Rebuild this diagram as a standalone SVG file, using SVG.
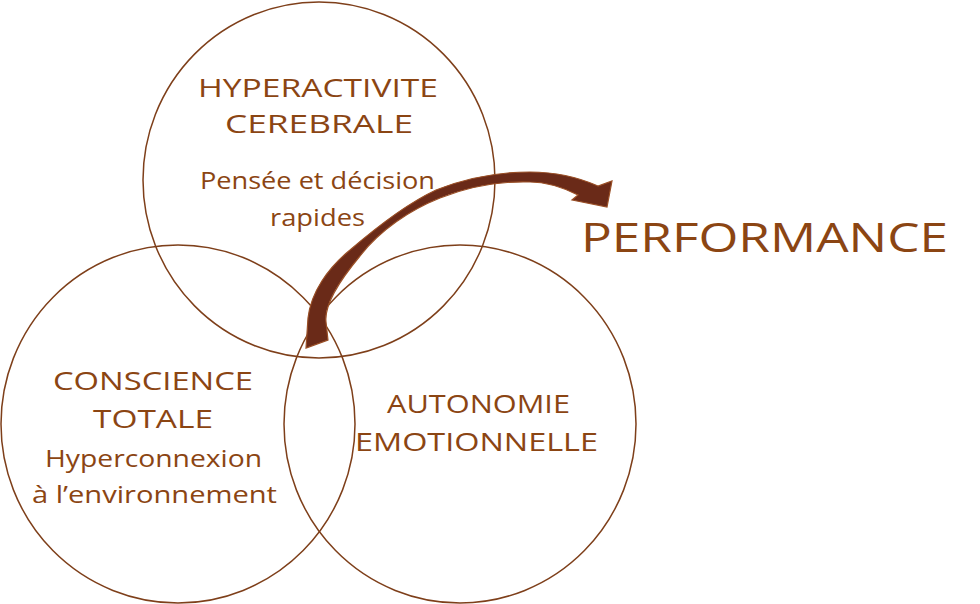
<svg xmlns="http://www.w3.org/2000/svg" width="980" height="604" viewBox="0 0 980 604">
  <style>
    .ring { fill: none; stroke: #7e3f1a; stroke-width: 1.5; }
    .t { font-family: "Open Sans", "Liberation Sans", sans-serif; fill: #8b4513; }
    .cap { font-size: 26px; }
    .low { font-size: 24px; }
    .big { font-size: 40px; }
    .arrow { fill: #6a2a18; stroke: #9a4f26; stroke-width: 1.2; stroke-linejoin: miter; }
  </style>
  <rect width="980" height="604" fill="#ffffff"/>
  <g id="node-hyperactivite">
    <ellipse class="ring" cx="319" cy="180" rx="176" ry="178"/>
    <text class="t cap" x="198" y="97" textLength="240" lengthAdjust="spacingAndGlyphs">HYPERACTIVITE</text>
    <text class="t cap" x="225" y="133" textLength="188" lengthAdjust="spacingAndGlyphs">CEREBRALE</text>
    <text class="t low" x="200" y="189" textLength="235" lengthAdjust="spacingAndGlyphs">Pensée et décision</text>
    <text class="t low" x="270" y="226" textLength="95" lengthAdjust="spacingAndGlyphs">rapides</text>
  </g>
  <g id="node-conscience">
    <ellipse class="ring" cx="178" cy="424" rx="177" ry="179"/>
    <text class="t cap" x="53" y="390" textLength="200" lengthAdjust="spacingAndGlyphs">CONSCIENCE</text>
    <text class="t cap" x="93" y="428" textLength="120" lengthAdjust="spacingAndGlyphs">TOTALE</text>
    <text class="t low" x="45" y="467" textLength="217" lengthAdjust="spacingAndGlyphs">Hyperconnexion</text>
    <text class="t low" x="32" y="503" textLength="245" lengthAdjust="spacingAndGlyphs">à l’environnement</text>
  </g>
  <g id="node-autonomie">
    <ellipse class="ring" cx="460" cy="424" rx="176" ry="179"/>
    <text class="t cap" x="387" y="413" textLength="183" lengthAdjust="spacingAndGlyphs">AUTONOMIE</text>
    <text class="t cap" x="355" y="451" textLength="243" lengthAdjust="spacingAndGlyphs">EMOTIONNELLE</text>
  </g>
  <g id="node-performance">
    <text class="t big" x="581" y="252" textLength="367" lengthAdjust="spacingAndGlyphs">PERFORMANCE</text>
  </g>
  <g id="connectors">
    <path class="arrow" d="M 306 348 L 308 318 C 311 292, 328 268, 350 250 C 378 226, 406 204, 436 190 C 466 178, 500 172, 530 172 C 558 172, 580 178, 598 186 L 612 181 L 607 207 L 572 200 L 578 195 C 562 187, 545 182, 530 182 C 500 181, 468 187, 440 198 C 410 210, 380 230, 360 256 C 340 280, 324 304, 326 322 L 328 340 Z"/>
  </g>
</svg>
